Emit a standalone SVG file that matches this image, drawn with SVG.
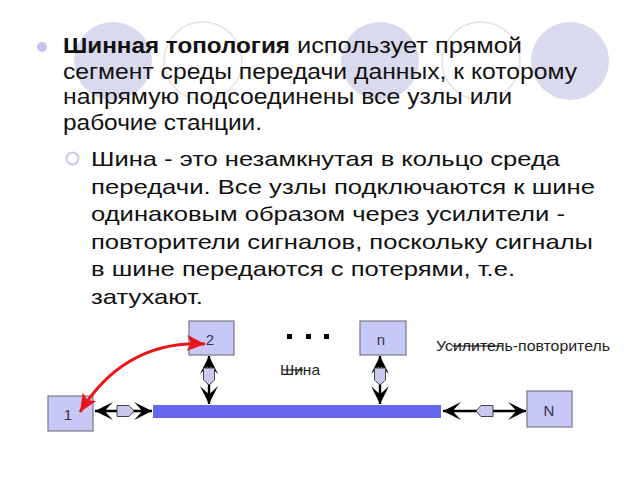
<svg xmlns="http://www.w3.org/2000/svg" width="640" height="480" viewBox="0 0 640 480">
<defs>
<style>
.bgf{fill:#dadaee;stroke:none}
.bgo{fill:none;stroke:#e2e2e6;stroke-width:1.5}
.t1{font-family:"Liberation Sans",Arial,sans-serif;font-size:22px;fill:#111}
.t2{font-family:"Liberation Sans",Arial,sans-serif;font-size:21px;fill:#111}
.node rect{fill:#c8c8f6;stroke:#77778a;stroke-width:1.2}
.node text{font-family:"Liberation Sans",Arial,sans-serif;font-size:15px;fill:#333344;text-anchor:middle}
.conn{stroke:#000;stroke-width:2.4;fill:none}
.rep{fill:#c8c8f0;stroke:#444;stroke-width:1}
.lbl{font-family:"Liberation Sans",Arial,sans-serif;font-size:15px;fill:#222}
</style>
<marker id="ab" viewBox="-19 -10 20 20" refX="0" refY="0" markerWidth="20" markerHeight="20" markerUnits="userSpaceOnUse" orient="auto-start-reverse">
<path d="M0,0 L-18,-9 Q-12,-3 -10,0 Q-12,3 -18,9 Z" fill="#000"/>
</marker>
<marker id="ar" viewBox="-19 -10 20 20" refX="0" refY="0" markerWidth="20" markerHeight="20" markerUnits="userSpaceOnUse" orient="auto-start-reverse">
<path d="M0,0 L-18,-8 L-14,0 L-18,8 Z" fill="#e8151b"/>
</marker>
</defs>
<rect width="640" height="480" fill="#fff"/>
<g id="background">
<circle class="bgf" cx="113" cy="61" r="39"/>
<circle class="bgo" cx="203" cy="61" r="39"/>
<circle class="bgf" cx="380" cy="61" r="39"/>
<circle class="bgo" cx="481" cy="61" r="39"/>
<circle class="bgf" cx="570" cy="61" r="39"/>
</g>
<g id="text">
<circle cx="42" cy="47" r="5" fill="#c4c4ee"/>
<text class="t1" x="63" y="53" font-weight="bold" textLength="227" lengthAdjust="spacingAndGlyphs">Шинная топология</text>
<text class="t1" x="297" y="53" textLength="225" lengthAdjust="spacingAndGlyphs">использует прямой</text>
<text class="t1" x="63" y="78.5" textLength="514" lengthAdjust="spacingAndGlyphs">сегмент среды передачи данных, к которому</text>
<text class="t1" x="63" y="104" textLength="449" lengthAdjust="spacingAndGlyphs">напрямую подсоединены все узлы или</text>
<text class="t1" x="63" y="129.5" textLength="199" lengthAdjust="spacingAndGlyphs">рабочие станции.</text>
<circle cx="72.5" cy="158.5" r="6" fill="none" stroke="#c8c8ee" stroke-width="2"/>
<text class="t2" x="91" y="166" textLength="469" lengthAdjust="spacingAndGlyphs">Шина - это незамкнутая в кольцо среда</text>
<text class="t2" x="91" y="193.5" textLength="504" lengthAdjust="spacingAndGlyphs">передачи. Все узлы подключаются к шине</text>
<text class="t2" x="91" y="221" textLength="474" lengthAdjust="spacingAndGlyphs">одинаковым образом через усилители -</text>
<text class="t2" x="91" y="248.5" textLength="502" lengthAdjust="spacingAndGlyphs">повторители сигналов, поскольку сигналы</text>
<text class="t2" x="91" y="276" textLength="424" lengthAdjust="spacingAndGlyphs">в шине передаются с потерями, т.е.</text>
<text class="t2" x="91" y="303.5" textLength="112" lengthAdjust="spacingAndGlyphs">затухают.</text>
</g>
<g id="bus">
<rect x="153" y="405" width="288" height="13" fill="#6868ee"/>
</g>
<g id="node-1" class="node"><rect x="48" y="396" width="45" height="35"/><text x="68" y="420">1</text></g>
<g id="node-2" class="node"><rect x="189" y="321" width="45" height="34"/><text x="210" y="345">2</text></g>
<g id="node-n" class="node"><rect x="360" y="321" width="46" height="34"/><text x="381" y="345">n</text></g>
<g id="node-N" class="node"><rect x="527" y="391" width="45" height="36"/><text x="549" y="416">N</text></g>
<g id="connectors">
<line class="conn" x1="95" y1="411" x2="152" y2="411" marker-start="url(#ab)" marker-end="url(#ab)"/>
<polygon class="rep" points="117,405.5 129,405.5 134,411 129,416.5 117,416.5"/>
<line class="conn" x1="209" y1="356" x2="209" y2="404" marker-start="url(#ab)" marker-end="url(#ab)"/>
<polygon class="rep" points="203.5,368 214.5,368 214.5,380 209,385 203.5,380"/>
<line class="conn" x1="380" y1="356" x2="380" y2="404" marker-start="url(#ab)" marker-end="url(#ab)"/>
<polygon class="rep" points="374.5,368 385.5,368 385.5,380 380,385 374.5,380"/>
<line class="conn" x1="443" y1="411" x2="526" y2="411" marker-start="url(#ab)" marker-end="url(#ab)"/>
<polygon class="rep" points="481,405.5 493,405.5 493,416.5 481,416.5 476,411"/>
<path d="M205,344 Q125,340 80,412" fill="none" stroke="#e8151b" stroke-width="3" marker-start="url(#ar)" marker-end="url(#ar)"/>
</g>
<g id="labels">
<rect x="287" y="334" width="5" height="5" fill="#000"/>
<rect x="306" y="334" width="5" height="5" fill="#000"/>
<rect x="324" y="334" width="5" height="5" fill="#000"/>
<text class="lbl" x="280" y="375" font-size="14" textLength="40" lengthAdjust="spacingAndGlyphs">Шина</text>
<line x1="283" y1="370" x2="303" y2="370" stroke="#000" stroke-width="1"/>
<text class="lbl" x="436" y="351" textLength="174" lengthAdjust="spacingAndGlyphs">Усилитель-повторитель</text>
<line x1="452" y1="346" x2="502" y2="346" stroke="#000" stroke-width="1"/>
</g>
</svg>
